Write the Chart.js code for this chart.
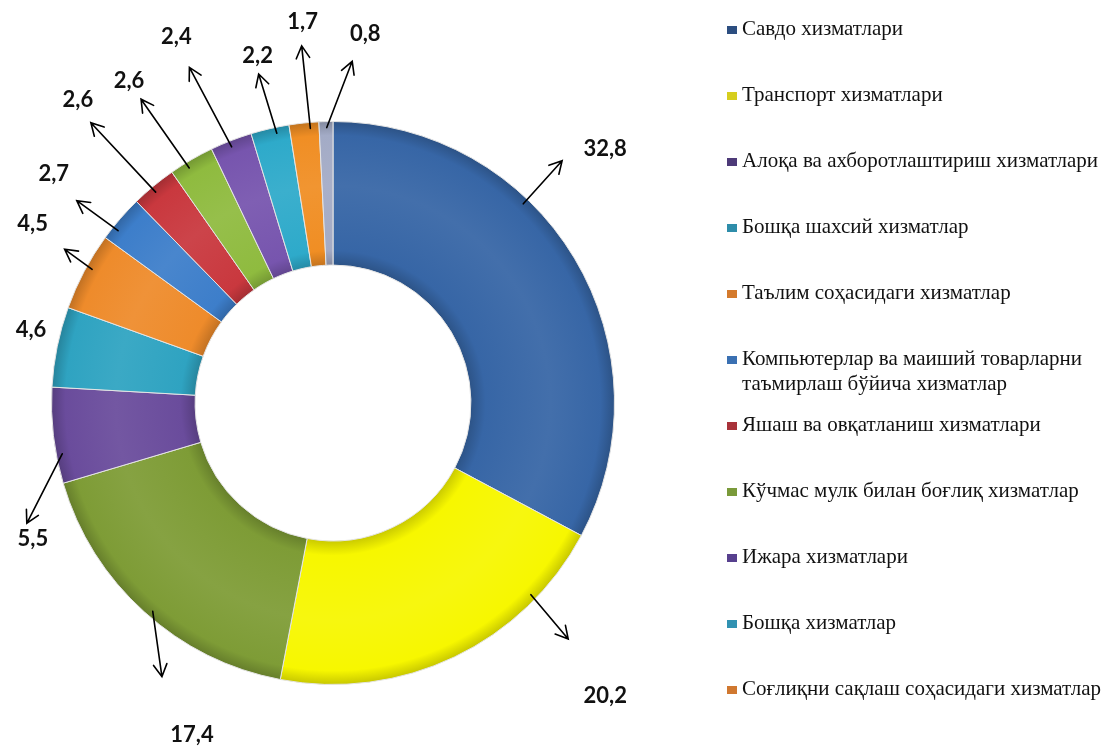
<!DOCTYPE html>
<html>
<head>
<meta charset="utf-8">
<script src="https://cdn.jsdelivr.net/npm/chart.js@4/dist/chart.umd.min.js"></script>
<style>
  html, body { margin: 0; padding: 0; background: #fff; }
  #wrap { position: relative; width: 1111px; height: 748px; }
</style>
</head>
<body>
<div id="wrap"><canvas id="chart" width="1111" height="748"></canvas></div>
<script>
// slices, clockwise from the top; "" = slice with no legend entry in the picture
const categories = [
    "Савдо хизматлари",
    "Транспорт хизматлари",
    "",
    "Алоқа ва ахборотлаштириш хизматлари",
    "Бошқа шахсий хизматлар",
    "Таълим соҳасидаги хизматлар",
    ["Компьютерлар ва маиший товарларни", "таъмирлаш бўйича хизматлар"],
    "Яшаш ва овқатланиш хизматлари",
    "Кўчмас мулк билан боғлиқ хизматлар",
    "Ижара хизматлари",
    "Бошқа хизматлар",
    "Соғлиқни сақлаш соҳасидаги хизматлар",
    "",
];
const shares = [32.8, 20.2, 17.4, 5.5, 4.6, 4.5, 2.7, 2.6, 2.6, 2.4, 2.2, 1.7, 0.8];

const sliceColors = [
    "#3766A6", "#F7F700", "#7E9C36", "#6A4C9C", "#2FA3C1", "#EE8B2B", "#3D7ECA",
    "#C9383E", "#8FBB3F", "#7755AE", "#2EAACA", "#F08E24", "#A3ABC6",
];
const legendColors = [
    "#2C4E80", "#D6CE1E", "#7A9A3A", "#4D3A78", "#2E8DAA", "#D47A2C", "#3A70B2",
    "#A8323A", "#7A9A3A", "#57408E", "#3192B2", "#D07830", "#8890A8",
];

// callout arrows: [position inside slice (0..1), direction (deg, clockwise from up), length, label dx, label dy]
const callouts = [
    [0.37, 42, 58, 43, -12],
    [0.22, 140, 58, 37, 57],
    [0.48, 172, 66, 30, 58],
    [0.30, 207, 78, 6, 16],
    [0.50, null, 0, -32, -18],
    [0.57, 306, 34, -32, -25],
    [0.28, 306, 51, -23, -27],
    [0.45, 317, 95, -13, -23],
    [0.37, 325, 84, -12, -18],
    [0.46, 332, 90, -13, -30],
    [0.65, 343, 62, -1, -18],
    [0.70, 354, 83, 1, -24],
    [0.55, 21, 71, 13, -27],
];

function shade(hex, amt) {
    const n = parseInt(hex.slice(1), 16);
    let r = (n >> 16) & 255, g = (n >> 8) & 255, b = n & 255;
    const f = v => Math.max(0, Math.min(255, Math.round(amt < 0 ? v * (1 + amt) : v + (255 - v) * amt)));
    return "rgb(" + f(r) + "," + f(g) + "," + f(b) + ")";
}

function ringFill(context) {
    const color = sliceColors[context.dataIndex];
    const chart = context.chart;
    const area = chart.chartArea;
    if (!area) return color;
    const cx = (area.left + area.right) / 2;
    const cy = (area.top + area.bottom) / 2;
    const outer = Math.min(area.width, area.height) / 2;
    const inner = outer * 0.49;
    const g = chart.ctx.createRadialGradient(cx, cy, inner, cx, cy, outer);
    g.addColorStop(0, shade(color, -0.18));
    g.addColorStop(0.1, color);
    g.addColorStop(0.55, shade(color, 0.06));
    g.addColorStop(0.9, color);
    g.addColorStop(1, shade(color, -0.2));
    return g;
}

const fmt = v => v.toFixed(1).replace(".", ",");

const calloutPlugin = {
    id: "callouts",
    afterDatasetsDraw(chart) {
        const ctx = chart.ctx;
        const meta = chart.getDatasetMeta(0);
        ctx.save();
        ctx.strokeStyle = "#000";
        ctx.fillStyle = "#111";
        ctx.lineWidth = 1.6;
        ctx.lineCap = "round";
        ctx.font = "bold 22px Lato, 'Liberation Sans', sans-serif";
        ctx.textAlign = "center";
        ctx.textBaseline = "middle";
        meta.data.forEach((arc, i) => {
            const p = arc.getProps(["x", "y", "startAngle", "endAngle", "outerRadius"], true);
            const [frac, dir, len, dx, dy] = callouts[i];
            const a = p.startAngle + frac * (p.endAngle - p.startAngle);
            const tx = p.x + (p.outerRadius - 6) * Math.cos(a);
            const ty = p.y + (p.outerRadius - 6) * Math.sin(a);
            let hx = tx, hy = ty;
            if (dir !== null) {
                const t = (dir - 90) * Math.PI / 180;
                hx = tx + len * Math.cos(t);
                hy = ty + len * Math.sin(t);
                ctx.beginPath();
                ctx.moveTo(tx, ty);
                ctx.lineTo(hx, hy);
                const back = t + Math.PI;
                const w = 0.5, hl = 14;
                ctx.moveTo(hx + hl * Math.cos(back - w), hy + hl * Math.sin(back - w));
                ctx.lineTo(hx, hy);
                ctx.lineTo(hx + hl * Math.cos(back + w), hy + hl * Math.sin(back + w));
                ctx.stroke();
            }
            ctx.fillText(fmt(shares[i]), hx + dx, hy + dy);
        });
        ctx.restore();
    },
};

const legendPlugin = {
    id: "sideLegend",
    afterDraw(chart) {
        const ctx = chart.ctx;
        ctx.save();
        ctx.font = "21px 'Liberation Serif', 'DejaVu Serif', serif";
        ctx.textAlign = "left";
        ctx.textBaseline = "middle";
        let row = 0;
        categories.forEach((label, i) => {
            if (label === "") return;
            const y = 28 + row * 66;
            const lines = Array.isArray(label) ? label : [label];
            ctx.fillStyle = legendColors[i];
            ctx.fillRect(727, y - 2, 10, 8);
            ctx.fillStyle = "#111";
            lines.forEach((ln, k) => ctx.fillText(ln, 742, y + 1 + k * 25));
            row++;
        });
        ctx.restore();
    },
};

new Chart(document.getElementById("chart"), {
    type: "doughnut",
    data: {
        labels: categories.map(c => Array.isArray(c) ? c.join(" ") : c),
        datasets: [{
            data: shares,
            backgroundColor: ringFill,
            borderColor: "#E4E4E4",
            borderWidth: 1,
        }],
    },
    options: {
        responsive: false,
        animation: false,
        cutout: "49%",
        layout: {
            padding: { left: 51, right: 496, top: 121, bottom: 63 },
        },
        plugins: {
            legend: { display: false },
            tooltip: { enabled: false },
        },
    },
    plugins: [calloutPlugin, legendPlugin],
});
</script>
</body>
</html>
